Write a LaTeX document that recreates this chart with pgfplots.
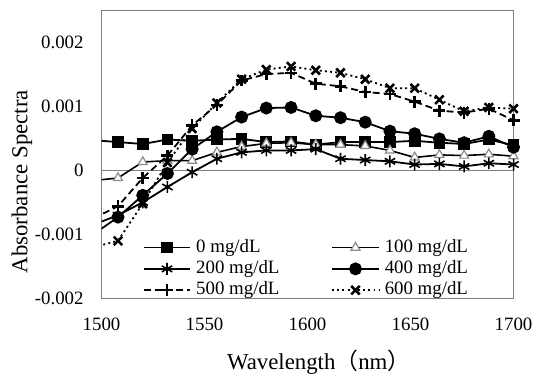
\documentclass[border=0pt]{standalone}
\usepackage{fontspec}
\setmainfont{Liberation Serif}
\newfontfamily\cjk{Noto Sans CJK SC}
\usepackage{pgfplots}
\pgfplotsset{compat=1.18}
\usepackage{pgfplotstable}
\usetikzlibrary{calc}

\pgfplotstableread{
x a0 a100 a200 a400 a500 a600
1496 0.47 -0.16 -0.85 -1.00 -0.75 -1.20
1508 0.44 -0.12 -0.70 -0.73 -0.56 -1.10
1520 0.41 0.13 -0.50 -0.39 -0.12 -0.52
1532 0.48 0.15 -0.26 -0.05 0.23 0.12
1544 0.46 0.15 -0.03 0.33 0.70 0.65
1556 0.48 0.28 0.18 0.60 1.02 1.05
1568 0.49 0.37 0.28 0.83 1.40 1.42
1580 0.44 0.42 0.31 0.97 1.50 1.57
1592 0.45 0.43 0.31 0.98 1.52 1.62
1604 0.40 0.40 0.33 0.85 1.35 1.56
1616 0.44 0.40 0.18 0.82 1.31 1.52
1628 0.44 0.38 0.16 0.75 1.22 1.42
1640 0.44 0.31 0.14 0.61 1.19 1.28
1652 0.46 0.20 0.09 0.57 1.07 1.28
1664 0.43 0.24 0.10 0.49 0.93 1.10
1676 0.41 0.23 0.06 0.43 0.90 0.92
1688 0.48 0.25 0.11 0.53 0.96 0.98
1700 0.39 0.22 0.09 0.36 0.78 0.96
}\data

\begin{document}
\begin{tikzpicture}
\begin{axis}[
  width=207bp, height=145bp, scale only axis,
  xmin=1500, xmax=1700, ymin=-2, ymax=2.5,
  xtick={1500,1550,1600,1650,1700},
  xticklabels={\textrm{1500},\textrm{1550},\textrm{1600},\textrm{1650},\textrm{1700}},
  ytick={-2,-1,0,1,2},
  yticklabels={\textrm{-0.002},\textrm{-0.001},\textrm{0},\textrm{0.001},\textrm{0.002}},
  major tick length=0pt,
  axis line style={draw=black!50},
  extra y ticks={0}, extra y tick labels={},
  extra y tick style={grid=major, major grid style={draw=black!50, line width=0.6bp}},
  ticklabel style={font=\fontsize{9.5}{10}\selectfont},
  xticklabel style={yshift=-6bp},
  yticklabel style={xshift=-5.5bp},
  xlabel={Wavelength{\cjk （}nm{\cjk ）}},
  ylabel={Absorbance Spectra},
  every axis x label/.style={at={(rel axis cs:0.527,-0.22)}, anchor=center, font=\fontsize{11.5}{12}\selectfont},
  every axis y label/.style={at={(rel axis cs:-0.193,0.405)}, anchor=center, rotate=90, font=\fontsize{11.5}{12}\selectfont},
  clip mode=individual,
  every axis plot/.append style={line width=0.9bp, black, mark indices={1,2,3,4,5,6,7,8,9,10,11,12,13,14,15,16,17}},
  legend columns=2,
  legend cell align=left,
  legend style={at={(rel axis cs:0.099,0.215)}, anchor=north west, draw=none, fill=none, inner sep=0pt,
    font=\fontsize{9.5}{10}\selectfont,
    nodes={inner xsep=2.5bp, inner ysep=1bp, text height=6.7bp, text depth=2bp},
    /tikz/every even column/.append style={column sep=23.5bp}},
  legend image code/.code={\draw[#1, mark indices={2}] plot coordinates {(0bp,0bp) (11.75bp,0bp) (23.5bp,0bp)};},
]
\addplot[mark=square*, mark size=2.5bp, mark options={solid}] table[x=x,y=a0] {\data};
\addlegendentry{0 mg/dL}
\addplot[line width=0.8bp, mark=triangle*, mark size=2.6bp, mark options={solid, fill=white, draw=black!45, line width=0.6bp}] table[x=x,y=a100] {\data};
\addlegendentry{100 mg/dL}
\addplot[mark=asterisk, mark size=3bp, mark options={solid, line width=0.8bp}] table[x=x,y=a200] {\data};
\addlegendentry{200 mg/dL}
\addplot[mark=*, mark size=2.8bp, mark options={solid}] table[x=x,y=a400] {\data};
\addlegendentry{400 mg/dL}
\addplot[dash pattern=on 3.5bp off 2bp, mark=+, mark size=3bp, mark options={solid, line width=1.3bp}] table[x=x,y=a500] {\data};
\addlegendentry{500 mg/dL}
\addplot[dash pattern=on 1bp off 1.6bp, mark=x, mark size=3bp, mark options={solid, line width=1.3bp}] table[x=x,y=a600] {\data};
\addlegendentry{600 mg/dL}
\end{axis}
\path ($(current axis.south west)+(-51bp,-38.5bp)$) rectangle ($(current axis.north east)+(11.5bp,5bp)$);
\end{tikzpicture}
\end{document}
